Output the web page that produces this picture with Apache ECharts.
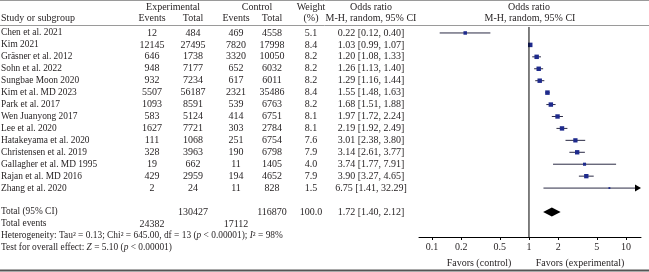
<!DOCTYPE html>
<html>
  <head>
    <meta charset="UTF-8" />
    <title>Forest plot</title>
    <script src="https://cdn.jsdelivr.net/npm/echarts@6.0.0/dist/echarts.min.js"></script>
    <style>
      body { margin: 0; background: #fff; }
    </style>
  </head>
  <body>
    <div id="forest" style="width: 649px; height: 272px"></div>
  </body>
  <script>
    // study data
    const studies = [
      "Chen et al. 2021", "Kim 2021", "Gräsner et al. 2012", "Sohn et al. 2022",
      "Sungbae Moon 2020", "Kim et al. MD 2023", "Park et al. 2017", "Wen Juanyong 2017",
      "Lee et al. 2020", "Hatakeyama et al. 2020", "Christensen et al. 2019",
      "Gallagher et al. MD 1995", "Rajan et al. MD 2016", "Zhang et al. 2020"
    ];
    const expEvents = [12, 12145, 646, 948, 932, 5507, 1093, 583, 1627, 111, 328, 19, 429, 2];
    const expTotal = [484, 27495, 1738, 7177, 7234, 56187, 8591, 5124, 7721, 1068, 3963, 662, 2959, 24];
    const ctrlEvents = [469, 7820, 3320, 652, 617, 2321, 539, 414, 303, 251, 190, 11, 194, 11];
    const ctrlTotal = [4558, 17998, 10050, 6032, 6011, 35486, 6763, 6751, 2784, 6754, 6798, 1405, 4652, 828];
    const weights = [5.1, 8.4, 8.2, 8.2, 8.2, 8.4, 8.2, 8.1, 8.1, 7.6, 7.9, 4.0, 7.9, 1.5];
    const oddsRatio = [0.22, 1.03, 1.20, 1.26, 1.29, 1.55, 1.68, 1.97, 2.19, 3.01, 3.14, 3.74, 3.90, 6.75];
    const ciLower = [0.12, 0.99, 1.08, 1.13, 1.16, 1.48, 1.51, 1.72, 1.92, 2.38, 2.61, 1.77, 3.27, 1.41];
    const ciUpper = [0.40, 1.07, 1.33, 1.40, 1.44, 1.63, 1.88, 2.24, 2.49, 3.80, 3.77, 7.91, 4.65, 32.29];

    // pooled result
    const pooledOR = [1.72, 1.40, 2.12]; // estimate, lower, upper
    const pooledTotals = [130427, 116870, 100.0]; // exp total, control total, weight
    const totalEvents = [24382, 17112];
    const heterogeneity = { tau2: "0.13", chi2: "645.00", df: 13, p: "0.00001", i2: 98 };
    const overallZ = "5.10";

    const xTicks = [0.1, 0.2, 0.5, 1, 2, 5, 10];

    const FONT = '10px "Liberation Serif", "DejaVu Serif", serif';
    const FONT_S = '9.4px "Liberation Serif", "DejaVu Serif", serif';
    const TXT = "#231f20";
    const yMin = -0.5, yMax = 17.1;
    const lg = (v) => Math.log10(v);

    // column centres in the table (layout only)
    const col = { exE: 152, exT: 193, ctE: 236, ctT: 272, w: 311, or: 371 };

    let myChart = echarts.init(document.getElementById("forest"));

    function txt(x, y, text, align, font) {
      return {
        type: "text", x: x, y: y,
        style: { text: text, font: font || FONT, fill: TXT, align: align || "center", verticalAlign: "middle" }
      };
    }

    const tableRows = studies.map((s, i) => [0, i]);
    const plotRows = studies.map((s, i) => [lg(oddsRatio[i]), i, lg(ciLower[i]), lg(ciUpper[i]), weights[i]]);

    myChart.setOption({
      animation: false,
      grid: [
        { left: 0, top: 27, width: 419, bottom: 35 },
        { left: 419, top: 27, right: 8, bottom: 35 }
      ],
      xAxis: [
        { gridIndex: 0, type: "value", min: 0, max: 419, show: false },
        {
          gridIndex: 1, type: "value", min: -1.134, max: 1.155,
          axisLine: { show: true, onZero: false, lineStyle: { color: "#000", width: 1 } },
          axisTick: { show: true, length: 3, customValues: xTicks.map(lg), lineStyle: { color: "#000" } },
          axisLabel: {
            customValues: xTicks.map(lg), margin: 5,
            fontFamily: '"Liberation Serif", serif', fontSize: 10, color: TXT,
            formatter: (v) => String(+Math.pow(10, v).toPrecision(2))
          },
          splitLine: { show: false }
        }
      ],
      yAxis: [
        { gridIndex: 0, type: "value", inverse: true, min: yMin, max: yMax, show: false },
        { gridIndex: 1, type: "value", inverse: true, min: yMin, max: yMax, show: false }
      ],
      series: [
        {
          // study table
          type: "custom", xAxisIndex: 0, yAxisIndex: 0, data: tableRows,
          renderItem: function (params, api) {
            const i = params.dataIndex;
            const y = api.coord([0, api.value(1)])[1];
            return {
              type: "group",
              children: [
                txt(1, y, studies[i], "left", FONT_S),
                txt(col.exE, y, String(expEvents[i])),
                txt(col.exT, y, String(expTotal[i])),
                txt(col.ctE, y, String(ctrlEvents[i])),
                txt(col.ctT, y, String(ctrlTotal[i])),
                txt(col.w, y, weights[i].toFixed(1)),
                txt(col.or, y, oddsRatio[i].toFixed(2) + " [" + ciLower[i].toFixed(2) + ", " + ciUpper[i].toFixed(2) + "]")
              ]
            };
          }
        },
        {
          // summary rows
          type: "custom", xAxisIndex: 0, yAxisIndex: 0, data: [[0, 15], [0, 16], [0, 17], [0, 18]],
          renderItem: function (params, api) {
            const i = params.dataIndex;
            const y = api.coord([0, api.value(1)])[1];
            if (i === 0) {
              return {
                type: "group",
                children: [
                  txt(1, y, "Total (95% CI)", "left", FONT_S),
                  txt(col.exT, y, String(pooledTotals[0])),
                  txt(col.ctT, y, String(pooledTotals[1])),
                  txt(col.w, y, pooledTotals[2].toFixed(1)),
                  txt(col.or, y, pooledOR[0].toFixed(2) + " [" + pooledOR[1].toFixed(2) + ", " + pooledOR[2].toFixed(2) + "]")
                ]
              };
            }
            if (i === 1) {
              return {
                type: "group",
                children: [
                  txt(1, y, "Total events", "left", FONT_S),
                  txt(col.exE, y, String(totalEvents[0])),
                  txt(col.ctE, y, String(totalEvents[1]))
                ]
              };
            }
            const rich = {
              n: { font: FONT_S, fill: TXT },
              i: { font: 'italic ' + FONT_S, fill: TXT }
            };
            const h = heterogeneity;
            const text = i === 2
              ? "{n|Heterogeneity: Tau² = " + h.tau2 + "; Chi² = " + h.chi2 + ", df = " + h.df + " (}{i|p}{n| < " + h.p + "); }{i|I}{n|² = " + h.i2 + "%}"
              : "{n|Test for overall effect: }{i|Z}{n| = " + overallZ + " (}{i|p}{n| < 0.00001)}";
            return {
              type: "text", x: 1, y: y,
              style: { text: text, rich: rich, font: FONT_S, fill: TXT, align: "left", verticalAlign: "middle" }
            };
          }
        },
        {
          // line of no effect
          type: "line", xAxisIndex: 1, yAxisIndex: 1, symbol: "none", silent: true,
          data: [[lg(1), yMin], [lg(1), yMax]],
          lineStyle: { color: "#000", width: 1 }
        },
        {
          // study CIs and squares
          type: "custom", xAxisIndex: 1, yAxisIndex: 1, data: plotRows,
          renderItem: function (params, api) {
            const cs = params.coordSys;
            const p = api.coord([api.value(0), api.value(1)]);
            let x1 = api.coord([api.value(2), api.value(1)])[0];
            let x2 = api.coord([api.value(3), api.value(1)])[0];
            const right = cs.x + cs.width - 1;
            const clipped = x2 > right;
            if (clipped) x2 = right;
            if (x1 < cs.x) x1 = cs.x;
            const s = Math.max(1.6, Math.sqrt(api.value(4)) * 1.55);
            const children = [
              { type: "line", shape: { x1: x1, y1: p[1], x2: clipped ? x2 - 4 : x2, y2: p[1] },
                style: { stroke: "#2b2b45", lineWidth: 1 } },
              { type: "rect", shape: { x: p[0] - s / 2, y: p[1] - s / 2, width: s, height: s },
                style: { fill: "#1e2a8c" } }
            ];
            if (clipped) {
              children.push({
                type: "polygon",
                shape: { points: [[x2 - 5, p[1] - 3.5], [x2 + 1, p[1]], [x2 - 5, p[1] + 3.5]] },
                style: { fill: "#000" }
              });
            }
            return { type: "group", children: children };
          }
        },
        {
          // pooled diamond
          type: "custom", xAxisIndex: 1, yAxisIndex: 1,
          data: [[lg(pooledOR[0]), 15, lg(pooledOR[1]), lg(pooledOR[2])]],
          renderItem: function (params, api) {
            const c = api.coord([api.value(0), api.value(1)]);
            const l = api.coord([api.value(2), api.value(1)])[0];
            const r = api.coord([api.value(3), api.value(1)])[0];
            return {
              type: "polygon",
              shape: { points: [[l, c[1]], [c[0], c[1] - 4.5], [r, c[1]], [c[0], c[1] + 4.5]] },
              style: { fill: "#000" }
            };
          }
        }
      ],
      graphic: [
        { type: "line", shape: { x1: 0, y1: 0.5, x2: 649, y2: 0.5 }, style: { stroke: "#9a9a9a", lineWidth: 1 } },
        { type: "line", shape: { x1: 0, y1: 25.5, x2: 649, y2: 25.5 }, style: { stroke: "#9a9a9a", lineWidth: 1 } },
        { type: "line", shape: { x1: 0, y1: 270.5, x2: 649, y2: 270.5 }, style: { stroke: "#555", lineWidth: 2 } },
        txt(1, 18, "Study or subgroup", "left"),
        txt(173, 7, "Experimental"),
        txt(col.exE, 18, "Events"),
        txt(col.exT, 18, "Total"),
        txt(257, 7, "Control"),
        txt(col.ctE, 18, "Events"),
        txt(col.ctT, 18, "Total"),
        txt(col.w, 7, "Weight"),
        txt(col.w, 18, "(%)"),
        txt(col.or, 7, "Odds ratio"),
        txt(col.or, 18, "M-H, random, 95% CI"),
        txt(529, 7, "Odds ratio"),
        txt(530, 18, "M-H, random, 95% CI"),
        txt(479, 263, "Favors (control)"),
        txt(580, 263, "Favors (experimental)")
      ].map((g) => Object.assign({ silent: true }, g))
    });
  </script>
</html>
